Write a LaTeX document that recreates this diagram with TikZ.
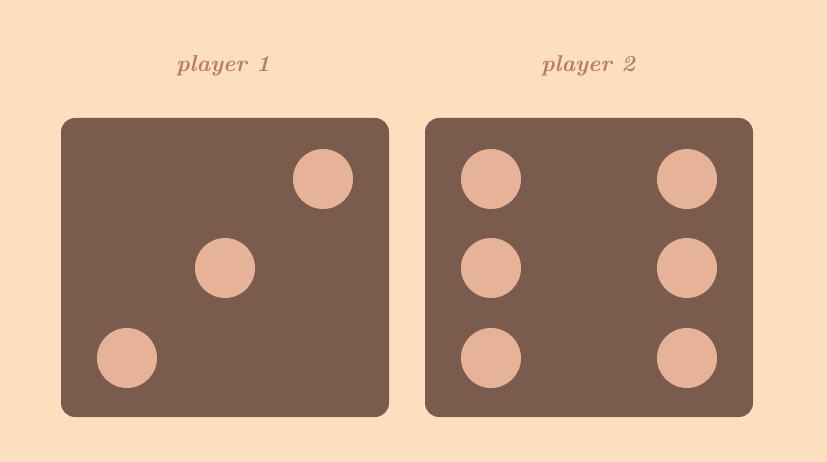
\documentclass[tikz,border=0pt]{standalone}
\usepackage{fontspec}
\definecolor{bg}{HTML}{FDDFC0}
\definecolor{die}{HTML}{7C5B4F}
\definecolor{pip}{HTML}{E6B399}
\definecolor{lbl}{HTML}{B87C68}
\begin{document}
\begin{tikzpicture}[x=1pt,y=-1pt,
  diebox/.style={fill=die,rounded corners=14pt},
  pipdot/.style={circle,fill=pip,minimum size=60pt,inner sep=0pt},
  title/.style={text=lbl,font=\fontsize{23}{27}\selectfont\bfseries\itshape}]
\fill[bg] (0,0) rectangle (827,462);
\useasboundingbox (0,0) rectangle (827,462);
\node[title] (t1) at (223,66) {player 1};
\node[title] (t2) at (588,66) {player 2};
\fill[diebox] (61,118) rectangle (389,417);
\fill[diebox] (425,118) rectangle (753,417);
\node[pipdot] (a1) at (323,179) {};
\node[pipdot] (a2) at (225,268) {};
\node[pipdot] (a3) at (127,358) {};
\node[pipdot] (b1) at (491,179) {};
\node[pipdot] (b2) at (687,179) {};
\node[pipdot] (b3) at (491,268) {};
\node[pipdot] (b4) at (687,268) {};
\node[pipdot] (b5) at (491,358) {};
\node[pipdot] (b6) at (687,358) {};
\end{tikzpicture}
\end{document}
